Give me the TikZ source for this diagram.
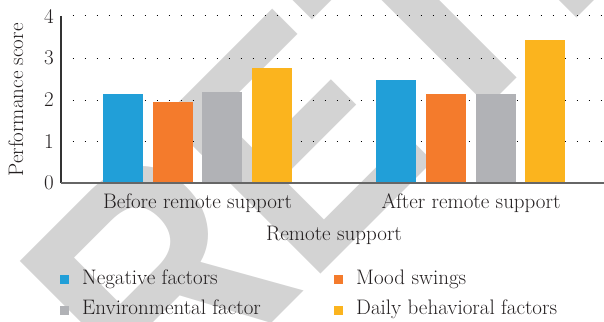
\documentclass[tikz,border=0pt]{standalone}
\usepackage{fontspec}
\newfontfamily\wmfont[FakeStretch=0.88]{Liberation Sans}
\definecolor{cblue}{HTML}{219FD8}
\definecolor{corange}{HTML}{F47B2C}
\definecolor{cgray}{HTML}{B1B2B6}
\definecolor{cyellow}{HTML}{FBB41E}
\definecolor{wm}{HTML}{D3D3D3}
\definecolor{txt}{HTML}{231F20}
\tikzset{
  lbl/.style={text=txt, font=\fontsize{21}{24}\selectfont, inner sep=0pt},
  bar/.style={draw=none, inner sep=0pt, minimum width=40pt, anchor=south},
  grid/.style={black, line width=1pt, dash pattern=on 1pt off 11pt},
  legbox/.style={inner sep=0pt, minimum size=9pt, anchor=south west}
}
\begin{document}
\begin{tikzpicture}[x=1pt,y=-1pt]
\useasboundingbox (0,0) rectangle (604,321);
\begin{scope}
\clip (0,0) rectangle (604,321);
\node[rotate=45, anchor=base west, text=wm, inner sep=0pt, font=\wmfont\bfseries\fontsize{322}{322}\selectfont] (wmark) at (163,432) {RETRACTED};
\end{scope}
% grid
\foreach \v/\yy in {1/141.5,2/100,3/58,4/16}{
  \coordinate (gs\v) at (72.7,\yy);
  \coordinate (ge\v) at (604,\yy);
  \draw[grid] (gs\v) -- (ge\v);
  \node[lbl, anchor=east] (t\v) at (54,\yy) {\v};
}
\node[lbl, anchor=east] (t0) at (54,183) {0};
% bars
\node[bar, fill=cblue, minimum height=89pt] (b1) at (123,183) {};
\node[bar, fill=corange, minimum height=81pt] (b2) at (173,183) {};
\node[bar, fill=cgray, minimum height=91pt] (b3) at (222,183) {};
\node[bar, fill=cyellow, minimum height=115pt] (b4) at (272,183) {};
\node[bar, fill=cblue, minimum height=103pt] (a1) at (396,183) {};
\node[bar, fill=corange, minimum height=89pt] (a2) at (446,183) {};
\node[bar, fill=cgray, minimum height=89pt] (a3) at (496,183) {};
\node[bar, fill=cyellow, minimum height=143pt] (a4) at (545,183) {};
% axes
\coordinate (o) at (61,183);
\coordinate (ytop) at (61,16);
\coordinate (xend) at (604,183);
\draw[line width=1.3pt, black!80] (ytop) -- (o);
\draw[line width=2pt, black!60] (o) -- (xend);
% labels
\node[lbl, anchor=base] (c1) at (197.5,208) {Before remote support};
\node[lbl, anchor=base] (c2) at (471,208) {After remote support};
\node[lbl, anchor=base] (xl) at (334,240) {Remote support};
\node[lbl, rotate=90, anchor=base] (yl) at (23,100) {Performance score};
% legend
\node[legbox, fill=cblue] (l1) at (60,284) {};
\node[lbl, anchor=base west] (lt1) at (82,284) {Negative factors};
\node[legbox, fill=corange] (l2) at (334,284) {};
\node[lbl, anchor=base west] (lt2) at (356,284) {Mood swings};
\node[legbox, fill=cgray] (l3) at (60,315) {};
\node[lbl, anchor=base west] (lt3) at (82,314) {Environmental factor};
\node[legbox, fill=cyellow] (l4) at (334,315) {};
\node[lbl, anchor=base west] (lt4) at (356,314) {Daily behavioral factors};
\end{tikzpicture}
\end{document}
